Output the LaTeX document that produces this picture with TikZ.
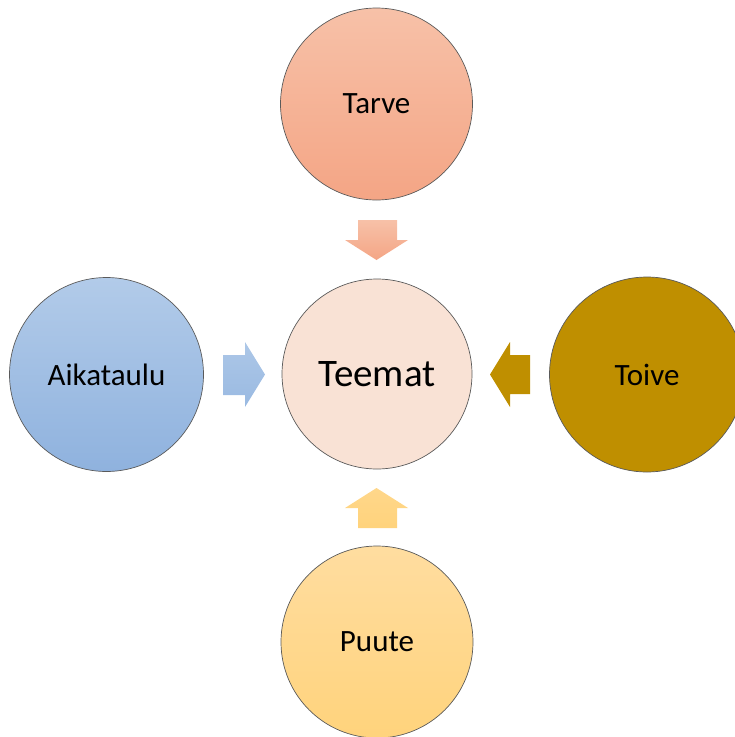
\documentclass[tikz,border=0pt]{standalone}
\usepackage{fontspec}
\setmainfont{Carlito}
\definecolor{tarveA}{HTML}{F7C1A8}
\definecolor{tarveB}{HTML}{F4A585}
\definecolor{aikaA}{HTML}{B2CBE9}
\definecolor{aikaB}{HTML}{8FB2DE}
\definecolor{toive}{HTML}{BF8F00}
\definecolor{puuteA}{HTML}{FFDDA0}
\definecolor{puuteB}{HTML}{FFD37C}
\definecolor{teema}{HTML}{F9E2D5}
\definecolor{rim}{HTML}{5A5A5A}
\begin{document}
\begin{tikzpicture}[x=1pt,y=-1pt,
  bubble/.style={circle,draw=rim,line width=0.7pt,inner sep=0pt,font=\fontsize{31}{36}\selectfont},
  blockarrow/.style={draw=none}]
\useasboundingbox (0,0) rectangle (735,737);
\clip (0,0) rectangle (735,737);
% circles
\node[bubble,minimum size=190pt,fill=teema,font=\fontsize{39}{44}\selectfont] (teemat) at (377,374) {Teemat};
\node[bubble,minimum size=192pt,top color=tarveA,bottom color=tarveB] (tarve) at (376.5,104) {Tarve};
\node[bubble,minimum size=194pt,top color=aikaA,bottom color=aikaB] (aika) at (106.5,374.5) {Aikataulu};
\node[bubble,minimum size=195pt,fill=toive] (toive) at (647,374.5) {Toive};
\node[bubble,minimum size=192pt,top color=puuteA,bottom color=puuteB] (puute) at (377,642) {Puute};
% block arrows
\path[blockarrow,top color=tarveA,bottom color=tarveB]
  (358,220) -- (397,220) -- (397,240) -- (408,240) -- (376.5,260) -- (345,240) -- (358,240) -- cycle;
\path[blockarrow,top color=aikaA!85!aikaB,bottom color=aikaB!70!aikaA]
  (223,355) -- (245,355) -- (245,342) -- (265,374.5) -- (245,407) -- (245,395) -- (223,395) -- cycle;
\path[blockarrow,fill=toive]
  (530,355) -- (510,355) -- (510,342) -- (490,374.5) -- (510,407) -- (510,394) -- (530,394) -- cycle;
\path[blockarrow,top color=puuteB!60!puuteA,bottom color=puuteB]
  (376.5,488) -- (408,508) -- (397,508) -- (397,528) -- (358,528) -- (358,508) -- (345,508) -- cycle;
\end{tikzpicture}
\end{document}
